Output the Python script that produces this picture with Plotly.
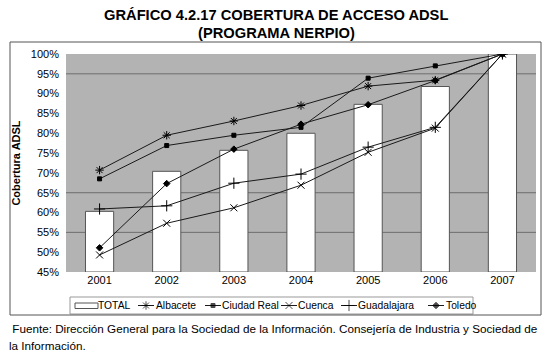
import plotly.graph_objects as go

years = ["2001", "2002", "2003", "2004", "2005", "2006", "2007"]
total = [60.3, 70.4, 75.7, 80.0, 87.3, 91.8, 100.0]
albacete = [70.7, 79.5, 83.1, 87.0, 91.9, 93.4, 100.0]
ciudad_real = [68.5, 76.9, 79.5, 81.5, 93.9, 97.0, 100.0]
cuenca = [49.3, 57.3, 61.2, 66.9, 75.2, 81.3, 100.0]
guadalajara = [60.9, 61.7, 67.4, 69.7, 76.5, 81.5, 100.0]
toledo = [51.1, 67.3, 76.0, 82.3, 87.2, 93.3, 100.0]
y_ticks = [45, 50, 55, 60, 65, 70, 75, 80, 85, 90, 95, 100]
visible_grid = [55, 65, 95]

FONT = "Liberation Sans, Arial, sans-serif"
W, H = 550, 362
BAR_LINE = "#555555"
LINE_COL = "#1a1a1a"


def px(x):
    return x / W


def py(y):
    return 1 - y / H


series = [
    ("Albacete", albacete, "asterisk-open", 7),
    ("Ciudad Real", ciudad_real, "square", 4),
    ("Cuenca", cuenca, "x-thin-open", 7),
    ("Guadalajara", guadalajara, "cross-thin-open", 8),
    ("Toledo", toledo, "diamond", 5),
]

fig = go.Figure()
fig.add_trace(go.Bar(
    x=years, y=[v - 45 for v in total], base=45, name="TOTAL",
    marker=dict(color="white", line=dict(color=BAR_LINE, width=1)),
    width=0.42, showlegend=False, xaxis="x", yaxis="y",
))
for name, vals, sym, size in series:
    fig.add_trace(go.Scatter(
        x=years, y=vals, name=name, mode="lines+markers", showlegend=False,
        line=dict(color=LINE_COL, width=1),
        marker=dict(symbol=sym, size=size, color="#000000",
                    line=dict(color="#000000", width=1)),
        xaxis="x", yaxis="y",
    ))

# ---- hand-built legend (single row, like the original) ----
LEG_X0, LEG_X1, LEG_Y0, LEG_Y1 = 70, 473, 297, 314
LEG_YC = 305.5
LEG_FONT = 10.3
leg_items = [  # (sample start, sample end, text start)
    (138, 154, 153.5),
    (205, 221, 220.3),
    (281, 297, 296.3),
    (341, 357, 356.3),
    (428, 444, 443.7),
]
for (name, vals, sym, size), (sx0, sx1, tx) in zip(series, leg_items):
    fig.add_trace(go.Scatter(
        x=[sx0, (sx0 + sx1) / 2, sx1], y=[LEG_YC] * 3, mode="lines+markers",
        showlegend=False, hoverinfo="skip",
        line=dict(color=LINE_COL, width=1),
        marker=dict(symbol=sym, size=[0, size, 0], color="#000000",
                    line=dict(color="#000000", width=1)),
        xaxis="x2", yaxis="y2",
    ))
    fig.add_annotation(text=name, xref="x2", yref="y2", x=tx, y=LEG_YC,
                       xanchor="left", yanchor="middle", showarrow=False,
                       font=dict(size=LEG_FONT, family=FONT, color="black"))
fig.add_annotation(text="TOTAL", xref="x2", yref="y2", x=96.5, y=LEG_YC,
                   xanchor="left", yanchor="middle", showarrow=False,
                   font=dict(size=LEG_FONT, family=FONT, color="black"))

shapes = []
# plot area background
shapes.append(dict(type="rect", xref="x domain", yref="y domain", x0=0, x1=1, y0=0, y1=1,
                   fillcolor="#b3b3b3", line=dict(width=0), layer="below"))
for g in visible_grid:
    shapes.append(dict(type="line", xref="x domain", yref="y", x0=0, x1=1, y0=g, y1=g,
                       line=dict(color="#6e6e6e", width=1), layer="below"))
# legend box + TOTAL swatch
shapes.append(dict(type="rect", xref="x2 domain", yref="y2 domain", x0=0, x1=1, y0=0, y1=1,
                   line=dict(color="#999999", width=1), fillcolor="white", layer="below"))
shapes.append(dict(type="rect", xref="x2", yref="y2", x0=75, x1=98, y0=303, y1=308.5,
                   line=dict(color=BAR_LINE, width=1), fillcolor="white"))
# outer chart border
shapes.append(dict(type="rect", xref="paper", yref="paper",
                   x0=px(10), x1=px(541), y0=py(315), y1=py(42),
                   line=dict(color="#555555", width=1)))

fig.add_annotation(text="<b>GRÁFICO 4.2.17 COBERTURA DE ACCESO ADSL</b>",
                   xref="paper", yref="paper", x=px(276), y=py(15), yanchor="middle",
                   showarrow=False, font=dict(size=14.7, color="black", family=FONT))
fig.add_annotation(text="<b>(PROGRAMA NERPIO)</b>",
                   xref="paper", yref="paper", x=px(276), y=py(33), yanchor="middle",
                   showarrow=False, font=dict(size=14.7, color="black", family=FONT))
fig.add_annotation(text=" Fuente: Dirección General para la Sociedad de la Información. Consejería de Industria y Sociedad de",
                   xref="paper", yref="paper", x=px(7), y=py(328), xanchor="left", yanchor="middle",
                   showarrow=False, font=dict(size=11.7, color="black", family=FONT))
fig.add_annotation(text="la Información.",
                   xref="paper", yref="paper", x=px(7), y=py(345), xanchor="left", yanchor="middle",
                   showarrow=False, font=dict(size=11.7, color="black", family=FONT))

fig.update_layout(
    width=W, height=H,
    margin=dict(l=0, r=0, t=0, b=0, autoexpand=False),
    paper_bgcolor="white", plot_bgcolor="rgba(0,0,0,0)",
    font=dict(family=FONT, size=11, color="black"),
    showlegend=False,
    shapes=shapes,
    xaxis=dict(domain=[px(66), px(536)], type="category", showgrid=False, ticks="",
               showline=False, tickfont=dict(size=11), automargin=False),
    yaxis=dict(domain=[py(272), py(54)], range=[45, 100], tickvals=y_ticks, automargin=False,
               ticktext=[f"{v}%" for v in y_ticks], showgrid=False,
               zeroline=False, ticks="", tickfont=dict(size=11), ticklabelstandoff=6,
               title=dict(text="<b>Cobertura ADSL</b>", font=dict(size=11), standoff=8)),
    xaxis2=dict(domain=[px(LEG_X0), px(LEG_X1)], range=[LEG_X0, LEG_X1], visible=False,
                fixedrange=True, anchor="y2"),
    yaxis2=dict(domain=[py(LEG_Y1), py(LEG_Y0)], range=[LEG_Y1, LEG_Y0], visible=False,
                fixedrange=True, anchor="x2"),
)

fig.write_html("out.html", config={"displayModeBar": False},
               post_script="document.body.style.margin='0';document.body.style.overflow='hidden';")
